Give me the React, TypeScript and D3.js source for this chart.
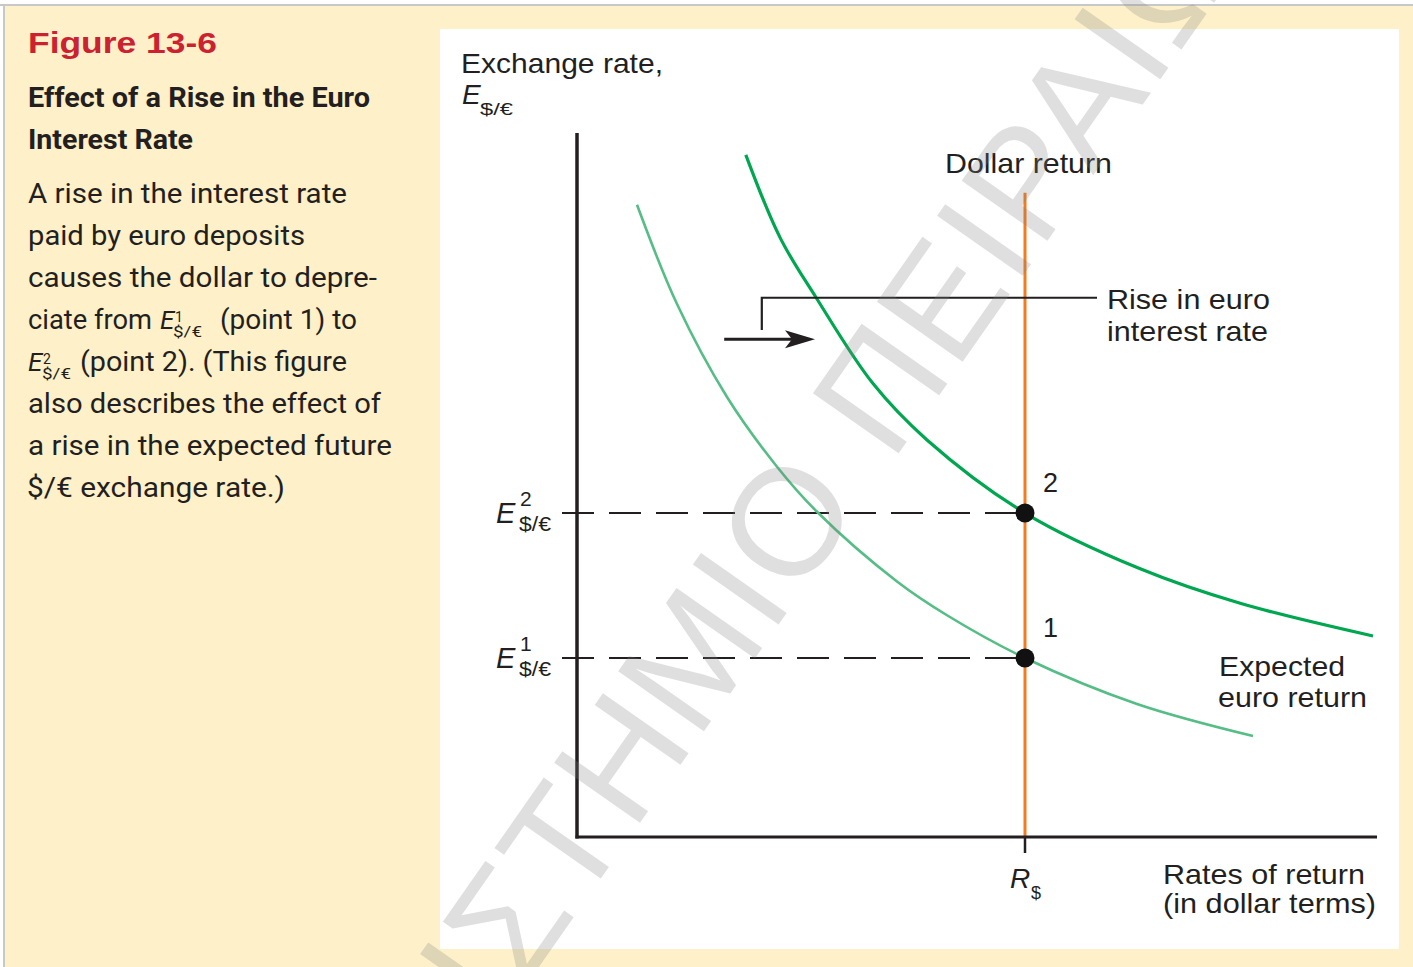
import React from 'react';
import * as d3 from 'd3';

// ---------- data ----------
const xDomain: [number, number] = [0, 100];
const yDomain: [number, number] = [0, 100];

// expected euro return before the rise (rate of return, exchange rate)
const euroReturnInitial: [number, number][] = [
  [7.5, 89.8], [12.5, 75.7], [18.75, 62.5], [25.0, 52.6], [30.0, 46.2],
  [40.0, 36.3], [46.25, 31.5], [56.0, 25.43], [70.0, 18.9], [84.5, 14.35],
];
// expected euro return after the rise in the euro interest rate
const euroReturnRaised: [number, number][] = [
  [21.1, 96.9], [25.4, 85.1], [29.9, 76.6], [37.0, 64.4], [43.75, 56.4],
  [56.0, 46.02], [70.4, 38.1], [82.9, 33.2], [99.5, 28.55],
];
const dollarRate = 56;
const dollarLineTop = 91.5;
const equilibria = [
  { id: '1', e: 25.43 },
  { id: '2', e: 46.02 },
];
const shiftArrow = { from: 18.4, to: 29.75, e: 70.7 };
const bracket = { x: 23.1, yLow: 72.0, yHigh: 76.6, xEnd: 65.0 };

const titleText = 'Figure 13-6';
const headLines = ['Effect of a Rise in the Euro', 'Interest Rate'];
const bodyLines = [
  'A rise in the interest rate',
  'paid by euro deposits',
  'causes the dollar to depre-',
];
const bodyTail = [
  'also describes the effect of',
  'a rise in the expected future',
  '$/€ exchange rate.)',
];
const watermarkA = 'ΠΑΝΕΠΙΣΤΗΜΙΟ';
const watermarkB = 'ΠΕΙΡΑΙΩΣ';

const INK = '#231f20';
const CREAM = '#fef0c8';
const SANS = '"Liberation Sans", Arial, Helvetica, sans-serif';
const COND = 'Roboto, "Liberation Sans", sans-serif';

export default function App() {
  const x = d3.scaleLinear().domain(xDomain).range([577, 1377]);
  const y = d3.scaleLinear().domain(yDomain).range([837, 133]);
  const line = d3
    .line<[number, number]>()
    .x((d) => x(d[0]))
    .y((d) => y(d[1]))
    .curve(d3.curveCatmullRom.alpha(0.5));

  const bodyW = [319, 277, 349];
  const tailW = [353, 364, 258];

  const body = (t: string, yy: number, w: number, xx = 28, key?: string) => (
    <text key={key ?? t} x={xx} y={yy} fontFamily={COND} fontSize={28} fill={INK}
      textLength={w} lengthAdjust="spacingAndGlyphs">{t}</text>
  );

  const xr = x(dollarRate);

  return (
    <svg width={1413} height={967} style={{ position: 'absolute', left: 0, top: 0, display: 'block' }}>
      <rect x={0} y={0} width={1413} height={967} fill="#ffffff" />
      <rect x={5} y={6} width={1408} height={961} fill={CREAM} />
      <line x1={0} x2={1413} y1={5} y2={5} stroke="#c8c8c8" strokeWidth={2} />
      <line x1={4} x2={4} y1={5} y2={967} stroke="#c8c8c8" strokeWidth={2} />
      <rect x={440} y={29} width={959} height={920} fill="#ffffff" />

      {/* left caption */}
      <text x={28} y={53} fontFamily={SANS} fontWeight={700} fontSize={30} fill="#cc2130"
        textLength={189} lengthAdjust="spacingAndGlyphs">{titleText}</text>
      {headLines.map((t, i) => (
        <text key={t} x={28} y={107 + i * 42} fontFamily={COND} fontWeight={700} fontSize={28} fill={INK}
          textLength={[342, 165][i]} lengthAdjust="spacingAndGlyphs">{t}</text>
      ))}
      {bodyLines.map((t, i) => body(t, 203 + i * 42, bodyW[i]))}
      {/* line with E1 */}
      {body('ciate from', 329, 124, 28, 'l7a')}
      <text x={160} y={329} fontFamily={COND} fontStyle="italic" fontSize={26} fill={INK}>E</text>
      <text x={175} y={322} fontFamily={COND} fontSize={14} fill={INK}>1</text>
      <text x={173} y={337} fontFamily={COND} fontSize={14} fill={INK} textLength={29} lengthAdjust="spacingAndGlyphs">$/€</text>
      {body('(point 1) to', 329, 137, 220, 'l7b')}
      {/* line with E2 */}
      <text x={28} y={371} fontFamily={COND} fontStyle="italic" fontSize={26} fill={INK}>E</text>
      <text x={43} y={364} fontFamily={COND} fontSize={14} fill={INK}>2</text>
      <text x={42} y={379} fontFamily={COND} fontSize={14} fill={INK} textLength={29} lengthAdjust="spacingAndGlyphs">$/€</text>
      {body('(point 2). (This figure', 371, 267, 80, 'l8b')}
      {bodyTail.map((t, i) => body(t, 413 + i * 42, tailW[i], i === 2 ? 27 : 28))}

      {/* axis titles */}
      <text x={461} y={73} fontFamily={SANS} fontSize={28} fill={INK} textLength={202} lengthAdjust="spacingAndGlyphs">Exchange rate,</text>
      <text x={462} y={104} fontFamily={SANS} fontStyle="italic" fontSize={28} fill={INK}>E</text>
      <text x={480} y={115} fontFamily={SANS} fontSize={17} fill={INK} textLength={33} lengthAdjust="spacingAndGlyphs">$/€</text>

      {/* dashed guides */}
      {equilibria.map((p) => (
        <line key={'d' + p.id} x1={x(0) - 15} x2={xr} y1={y(p.e)} y2={y(p.e)}
          stroke={INK} strokeWidth={2} strokeDasharray="32 15" />
      ))}

      {/* curves */}
      <path d={line(euroReturnInitial) || ''} fill="none" stroke="#55bd85" strokeWidth={2.6} />
      <path d={line(euroReturnRaised) || ''} fill="none" stroke="#00a650" strokeWidth={3.2} />

      {/* dollar return */}
      <line x1={xr} x2={xr} y1={y(dollarLineTop)} y2={y(0)} stroke="#f47b20" strokeWidth={3} />
      <line x1={xr} x2={xr} y1={y(0)} y2={y(0) + 16} stroke={INK} strokeWidth={2.5} />
      <text x={945} y={173} fontFamily={SANS} fontSize={28} fill={INK} textLength={167} lengthAdjust="spacingAndGlyphs">Dollar return</text>

      {/* bracket and arrow */}
      <path d={`M${x(bracket.x)},${y(bracket.yLow)}V${y(bracket.yHigh)}H${x(bracket.xEnd)}`} fill="none" stroke={INK} strokeWidth={2.2} />
      <line x1={x(shiftArrow.from)} x2={x(shiftArrow.to) - 20} y1={y(shiftArrow.e)} y2={y(shiftArrow.e)} stroke={INK} strokeWidth={3} />
      <path d={`M${x(shiftArrow.to)},${y(shiftArrow.e)}L${x(shiftArrow.to) - 30},${y(shiftArrow.e) - 9}L${x(shiftArrow.to) - 23},${y(shiftArrow.e)}L${x(shiftArrow.to) - 30},${y(shiftArrow.e) + 9}Z`} fill={INK} />
      <text x={1107} y={309} fontFamily={SANS} fontSize={28} fill={INK} textLength={163} lengthAdjust="spacingAndGlyphs">Rise in euro</text>
      <text x={1107} y={341} fontFamily={SANS} fontSize={28} fill={INK} textLength={161} lengthAdjust="spacingAndGlyphs">interest rate</text>

      {/* axes */}
      <line x1={x(0)} x2={x(0)} y1={y(100)} y2={y(0) + 1.5} stroke={INK} strokeWidth={3.5} />
      <line x1={x(0) - 1.5} x2={x(100)} y1={y(0)} y2={y(0)} stroke={INK} strokeWidth={3} />

      {/* equilibrium points */}
      {equilibria.map((p) => (
        <g key={'p' + p.id}>
          <circle cx={xr} cy={y(p.e)} r={9.5} fill="#111" />
          <text x={xr + 18} y={y(p.e) - 21} fontFamily={SANS} fontSize={27} fill={INK}>{p.id}</text>
        </g>
      ))}

      {/* E labels */}
      {equilibria.map((p) => (
        <g key={'e' + p.id}>
          <text x={496} y={y(p.e) + 10} fontFamily={SANS} fontStyle="italic" fontSize={29} fill={INK}>E</text>
          <text x={520} y={y(p.e) - 7} fontFamily={SANS} fontSize={21} fill={INK}>{p.id}</text>
          <text x={519} y={y(p.e) + 18} fontFamily={SANS} fontSize={20} fill={INK} textLength={32} lengthAdjust="spacingAndGlyphs">$/€</text>
        </g>
      ))}

      <text x={1219} y={676} fontFamily={SANS} fontSize={28} fill={INK} textLength={126} lengthAdjust="spacingAndGlyphs">Expected</text>
      <text x={1218} y={707} fontFamily={SANS} fontSize={28} fill={INK} textLength={149} lengthAdjust="spacingAndGlyphs">euro return</text>

      <text x={1010} y={888} fontFamily={SANS} fontStyle="italic" fontSize={28} fill={INK}>R</text>
      <text x={1031} y={899} fontFamily={SANS} fontSize={18} fill={INK}>$</text>
      <text x={1163} y={884} fontFamily={SANS} fontSize={28} fill={INK} textLength={202} lengthAdjust="spacingAndGlyphs">Rates of return</text>
      <text x={1163} y={913} fontFamily={SANS} fontSize={28} fill={INK} textLength={213} lengthAdjust="spacingAndGlyphs">(in dollar terms)</text>

      {/* watermark */}
      <g transform="translate(864.9,501.4) rotate(-55)" fill="#808080" fillOpacity={0.25} fontFamily={SANS} fontSize={152} letterSpacing={2}>
        <text x={0} y={0} textAnchor="end">{watermarkA}</text>
        <text x={46.3} y={0}>{watermarkB}</text>
      </g>
    </svg>
  );
}
